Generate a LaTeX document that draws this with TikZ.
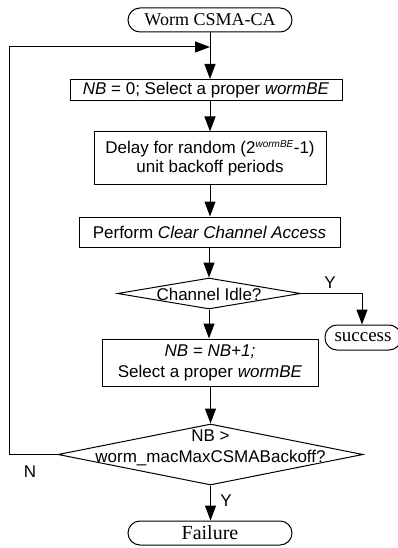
\documentclass[tikz,border=0pt]{standalone}
\usepackage{fontspec}
\setmainfont{Liberation Serif}
\setsansfont{Liberation Sans}
\usetikzlibrary{arrows.meta,shapes.geometric}
\tikzset{
  base/.style={draw, line width=1pt, inner sep=0pt},
  term/.style={base, rounded corners=12pt, font=\rmfamily\fontsize{18}{20}\selectfont},
  procbox/.style={base, align=center, font=\sffamily\fontsize{17}{19}\selectfont},
  decide/.style={base, shape=diamond},
  lbl/.style={font=\sffamily\fontsize{17}{19}\selectfont, inner sep=0pt},
  conn/.style={line width=1pt, -{Triangle[length=15pt,width=11pt]}},
  wire/.style={line width=1pt}
}
\begin{document}
\begin{tikzpicture}[x=1pt,y=-1pt]
\useasboundingbox (0,0) rectangle (398,548);
\node[term, minimum width=164pt, minimum height=24pt] (start) at (210,20) {Worm CSMA-CA};
\node[procbox, minimum width=272pt, minimum height=21pt] (b1) at (206,90) {\textit{NB} = 0; Select a proper \textit{wormBE}};
\node[procbox, minimum width=232pt, minimum height=52pt] (b2) at (210,158) {Delay for random (2\textsuperscript{\itshape\fontsize{10}{10}\selectfont wormBE}-1)\\unit backoff periods};
\node[procbox, minimum width=261pt, minimum height=30pt] (b3) at (209.5,232) {Perform \textit{Clear Channel Access}};
\node[decide, minimum width=183pt, minimum height=31pt] (d1) at (209,293.5) {};
\node[lbl] (d1t) at (209,294) {Channel Idle?};
\node[term, minimum width=76pt, minimum height=25pt, font=\rmfamily\fontsize{19}{20}\selectfont] (succ) at (363,337.5) {success};
\node[procbox, minimum width=216pt, minimum height=47pt, font=\sffamily\fontsize{17}{21}\selectfont] (b4) at (210,362.5) {\textit{NB = NB+1;}\\Select a proper \textit{wormBE}};
\node[decide, minimum width=305pt, minimum height=61pt] (d2) at (210.5,454.5) {};
\node[lbl, align=center, font=\sffamily\fontsize{17}{21}\selectfont] (d2t) at (210.5,448) {NB >\\worm\_macMaxCSMABackoff?};
\node[term, minimum width=164pt, minimum height=24pt, font=\rmfamily\fontsize{20}{20}\selectfont] (fail) at (210,533) {Failure};
\coordinate (loopL) at (9,47);
\coordinate (loopR) at (210,47);
\coordinate (yc) at (362,293.5);
\node[lbl] (y1) at (330,283) {Y};
\node[lbl] (y2) at (226,501) {Y};
\node[lbl] (n1) at (30,472) {N};
\draw[conn] (start.south) -- (b1.north -| start.south);
\draw[conn] (b1.south -| b2.north) -- (b2.north);
\draw[conn] (b2.south) -- (b3.north -| b2.south);
\draw[conn] (b3.south -| d1.north) -- (d1.north);
\draw[conn] (d1.south) -- (b4.north -| d1.south);
\draw[conn] (b4.south -| d2.north) -- (d2.north);
\draw[conn] (d2.south) -- (fail.north -| d2.south);
\draw[conn] (d1.east) -- (yc) -- (succ.north -| yc);
\draw[wire] (d2.west) -| (loopL);
\draw[conn] (loopL) -- (loopR);
\end{tikzpicture}
\end{document}
